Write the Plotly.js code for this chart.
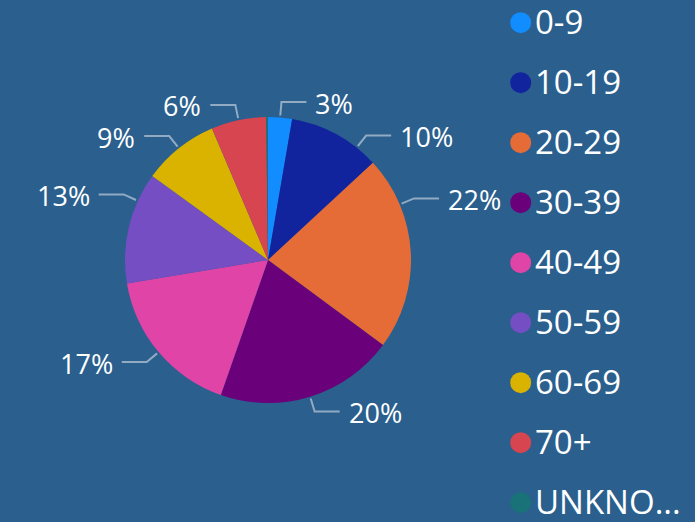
<!DOCTYPE html>
<html>
<head>
<meta charset="utf-8">
<script src="https://cdn.plot.ly/plotly-3.0.1.min.js"></script>
<style>
  html, body { margin: 0; padding: 0; background: #2A5F8E; }
  #chart { width: 695px; height: 522px; }
</style>
</head>
<body>
<div id="chart"></div>
<script>
// ---- data ----
var categories = ["0-9", "10-19", "20-29", "30-39", "40-49", "50-59", "60-69", "70+", "UNKNOWN"];
var shares = [2.7, 10.4, 22.0, 20.2, 17.0, 12.6, 8.6, 6.2, 0.2];
var colors = ["#118DFF", "#12239E", "#E66C37", "#6B007B", "#E044A7", "#744EC2", "#D9B300", "#D64550", "#197278"];

// ---- layout constants ----
var W = 695, H = 522;
var cx = 268, cy = 260, R = 143;
var bg = "#2A5F8E";
var font = "Open Sans, Noto Sans, sans-serif";
// label placement nudges (degrees) so outside labels do not crowd
var labelNudge = {"10-19": 9.8, "20-29": -19.7, "50-59": 11.2};

function px(x) { return x / W; }
function py(y) { return 1 - y / H; }

var total = shares.reduce(function (a, b) { return a + b; }, 0);

var shapes = [];
var annotations = [];

// data labels with elbow leader lines
var cum = 0;
shares.forEach(function (v, i) {
  var frac = v / total;
  var mid = (cum + frac / 2) * 360;
  cum += frac;
  var pct = Math.round(frac * 100);
  if (frac < 0.01) return;
  var ang = (mid + (labelNudge[categories[i]] || 0)) * Math.PI / 180;
  var sx = Math.sin(ang), sy = -Math.cos(ang);
  var x0 = cx + (R + 2) * sx, y0 = cy + (R + 2) * sy;
  var x1 = cx + (R + 15.5) * sx, y1 = cy + (R + 15.5) * sy;
  var right = sx >= 0;
  var x2 = x1 + (right ? 25 : -25), y2 = y1;
  shapes.push({
    type: "path", xref: "paper", yref: "paper",
    path: "M " + px(x0) + "," + py(y0) + " L " + px(x1) + "," + py(y1) + " L " + px(x2) + "," + py(y2),
    line: { color: "rgba(165,185,205,0.85)", width: 2 }
  });
  annotations.push({
    xref: "paper", yref: "paper",
    x: px(x2 + (right ? 7 : -7)), y: py(y2 + 1),
    xanchor: right ? "left" : "right", yanchor: "middle",
    text: pct + "%", showarrow: false,
    font: { family: font, size: 27, color: "#FFFFFF" }
  });
});

// legend (circles + labels)
categories.forEach(function (c, i) {
  var yc = 22.7 + 60 * i;
  var r = 10.5, lx = 520.7;
  shapes.push({
    type: "circle", xref: "paper", yref: "paper",
    x0: px(lx - r), x1: px(lx + r), y0: py(yc + r), y1: py(yc - r),
    fillcolor: colors[i], line: { width: 0 }
  });
  var label = c.length > 5 ? c.slice(0, 5) + "..." : c;
  annotations.push({
    xref: "paper", yref: "paper",
    x: px(533), y: py(yc - 1.5),
    xanchor: "left", yanchor: "middle",
    height: 34, valign: "middle",
    text: label, showarrow: false,
    font: { family: font, size: 33, color: "#FFFFFF" }
  });
});

var trace = {
  type: "pie",
  labels: categories,
  values: shares,
  sort: false,
  direction: "clockwise",
  rotation: 0,
  marker: { colors: colors, line: { width: 0 } },
  textinfo: "none",
  hoverinfo: "label+percent",
  showlegend: false,
  domain: { x: [px(cx - R), px(cx + R)], y: [py(cy + R), py(cy - R)] }
};

var layout = {
  width: W, height: H,
  margin: { l: 0, r: 0, t: 0, b: 0 },
  paper_bgcolor: bg,
  plot_bgcolor: bg,
  showlegend: false,
  shapes: shapes,
  annotations: annotations
};

Plotly.newPlot("chart", [trace], layout, { displayModeBar: false, staticPlot: true });
</script>
</body>
</html>
